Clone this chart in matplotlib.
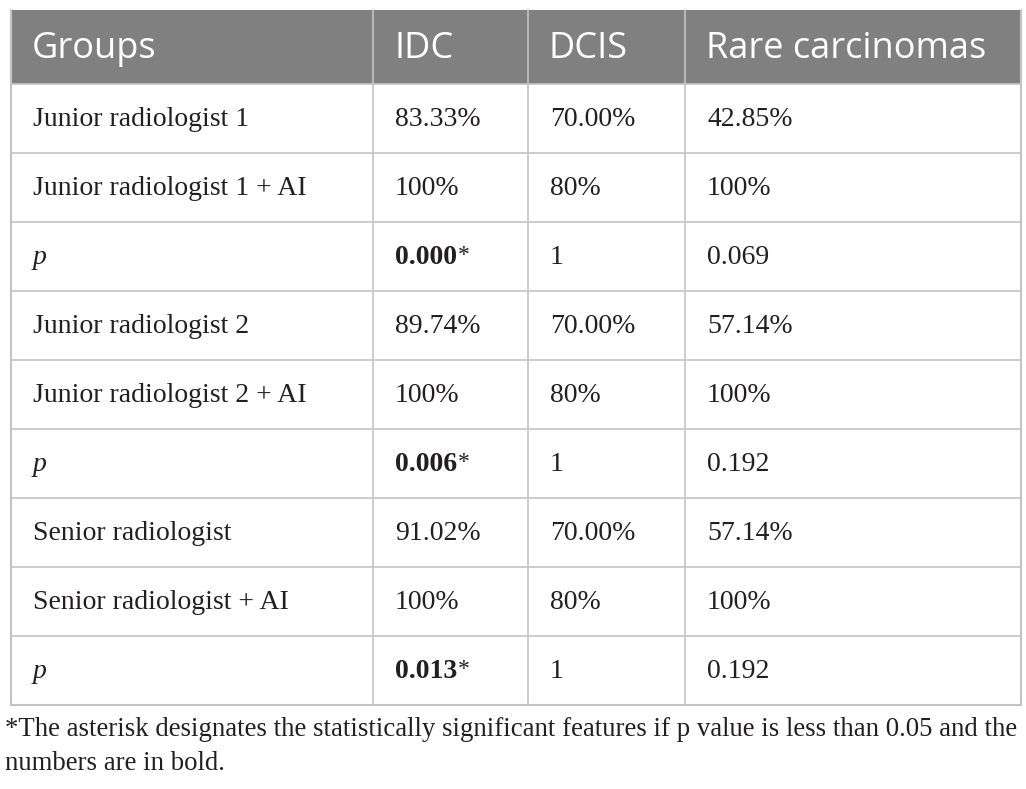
import matplotlib
matplotlib.use("Agg")
from matplotlib import pyplot as plt
from matplotlib.patches import Rectangle

# table content
columns = ["Groups", "IDC", "DCIS", "Rare carcinomas"]
groups = ["Junior radiologist 1", "Junior radiologist 1 + AI", "p",
          "Junior radiologist 2", "Junior radiologist 2 + AI", "p",
          "Senior radiologist", "Senior radiologist + AI", "p"]
idc = ["83.33%", "100%", "0.000*", "89.74%", "100%", "0.006*",
       "91.02%", "100%", "0.013*"]
dcis = ["70.00%", "80%", "1", "70.00%", "80%", "1", "70.00%", "80%", "1"]
rare = ["42.85%", "100%", "0.069", "57.14%", "100%", "0.192",
        "57.14%", "100%", "0.192"]
footnote = ["*The asterisk designates the statistically significant features if p value is less than 0.05 and the",
            "numbers are in bold."]


def main():
    W, H = 1026, 789
    fig = plt.figure(figsize=(W / 100, H / 100), dpi=100)
    ax = fig.add_axes([0, 0, 1, 1])
    ax.set_xlim(0, W)
    ax.set_ylim(H, 0)
    ax.axis("off")
    fig.canvas.draw()
    r = fig.canvas.get_renderer()

    left, right = 11, 1021
    col_x = [left, 373, 528, 685, right]
    head_top, head_bot = 10, 84
    row_h = 69
    line_c = "#c4c4c4"
    txt_c = "#231f20"
    n = len(groups)
    bottom = head_bot + n * row_h

    # header
    ax.add_patch(Rectangle((left, head_top), right - left, head_bot - head_top,
                           facecolor="#808080", edgecolor="none"))
    for j, c in enumerate(columns):
        ax.text(col_x[j] + 21, (head_top + head_bot) / 2 + 2, c, color="white",
                fontsize=26, family="Open Sans", va="center", ha="left")

    # body
    cols = [groups, idc, dcis, rare]
    for i in range(n):
        yc = head_bot + i * row_h + row_h / 2
        for j, col in enumerate(cols):
            txt = col[i]
            style = "italic" if (j == 0 and txt == "p") else "normal"
            if j == 1 and txt.endswith("*"):
                # bold number, plain asterisk
                t = ax.text(col_x[j] + 22, yc + 1, txt[:-1], fontsize=20,
                            family="Liberation Serif", weight="bold",
                            va="center", ha="left", color=txt_c)
                bb = t.get_window_extent(r)
                x_end = ax.transData.inverted().transform((bb.x1, bb.y0))[0]
                ax.text(x_end + 1, yc - 1, "*", fontsize=17,
                        family="Liberation Serif", va="center", ha="left",
                        color=txt_c)
                continue
            ax.text(col_x[j] + 22, yc + 1, txt, fontsize=20,
                    family="Liberation Serif", style=style,
                    va="center", ha="left", color=txt_c)

    # grid lines
    for i in range(1, n):
        y = head_bot + i * row_h
        ax.plot([left, right], [y, y], color=line_c, lw=1.2)
    ax.plot([left, right], [head_bot, head_bot], color=line_c, lw=1.2)
    ax.plot([left, right], [bottom, bottom], color=line_c, lw=1.5)
    for x in col_x[1:-1]:
        ax.plot([x, x], [head_top, bottom], color=line_c, lw=1.2)
    ax.plot([left, left], [head_top, bottom], color=line_c, lw=1.5)
    ax.plot([right, right], [head_top, bottom], color=line_c, lw=1.5)

    # footnote, sized to fill the table width
    t = ax.text(5, 730, footnote[0], fontsize=16, family="Liberation Serif",
                va="center", ha="left", color=txt_c)
    w = t.get_window_extent(r).width
    t.set_fontsize(16 * 1011 / w)
    ax.text(5, 764, footnote[1], fontsize=t.get_fontsize(),
            family="Liberation Serif", va="center", ha="left", color=txt_c)

    fig.savefig("out.png", dpi=100)


if __name__ == "__main__":
    main()
